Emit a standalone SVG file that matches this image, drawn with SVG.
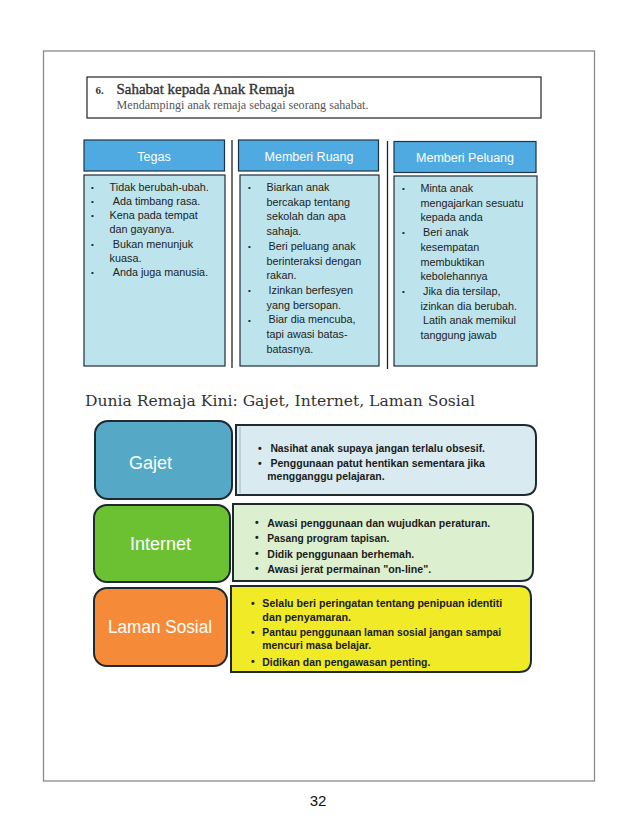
<svg xmlns="http://www.w3.org/2000/svg" width="638" height="837" viewBox="0 0 638 837">
<style>
.page{fill:#fff;stroke:#8a8a8a;stroke-width:1.3}
.hbox{fill:#fff;stroke:#222;stroke-width:1.2}
.ttl{font-family:"Liberation Serif",serif;font-size:15px;fill:#333;stroke:#333;stroke-width:0.35}
.sub{font-family:"Liberation Serif",serif;font-size:11.5px;fill:#555}
.colh{fill:#4faae2;stroke:#1d3447;stroke-width:1.2}
.colb{fill:#bde4ec;stroke:#1e2e38;stroke-width:1.2}
.colht{font-family:"Liberation Sans",Arial,sans-serif;font-size:12.5px;fill:#fff;text-anchor:middle}
.ct{font-family:"Liberation Sans",Arial,sans-serif;font-size:10.8px;fill:#222}
.bul{font-family:"Liberation Sans",Arial,sans-serif;font-size:8px;fill:#222}
.sep{stroke:#222;stroke-width:1.3}
.head{font-family:"DejaVu Serif",serif;font-size:15.5px;fill:#333}
.lbl{stroke:#1e2a30;stroke-width:2}
.lt{font-family:"Liberation Sans",Arial,sans-serif;font-size:18px;fill:#fff}
.cb{stroke:#1e2a30;stroke-width:2}
.bt{font-family:"Liberation Sans",Arial,sans-serif;font-size:10.5px;font-weight:bold;fill:#1b1b1b}
.pn{font-family:"Liberation Sans",Arial,sans-serif;font-size:15px;fill:#111;text-anchor:middle}
</style>
<rect x="0" y="0" width="638" height="837" fill="#fff"/>
<rect class="page" x="43.5" y="51" width="551" height="730"/>

<g id="section-title">
<rect class="hbox" x="87" y="77" width="454" height="41"/>
<text x="95.4" y="94" font-family="Liberation Serif,serif" font-weight="bold" font-size="11px" fill="#333">6.</text>
<text class="ttl" x="116.5" y="94" textLength="178" lengthAdjust="spacingAndGlyphs">Sahabat kepada Anak Remaja</text>
<text class="sub" x="116.5" y="108.5" textLength="252" lengthAdjust="spacingAndGlyphs">Mendampingi anak remaja sebagai seorang sahabat.</text>
</g>

<line class="sep" x1="232" y1="140" x2="232" y2="368"/>
<line class="sep" x1="387.5" y1="141" x2="387.5" y2="369"/>

<g id="tegas">
<rect class="colh" x="84" y="140" width="140.5" height="31"/>
<text class="colht" x="154" y="160.5">Tegas</text>
<rect class="colb" x="84" y="175" width="141" height="191"/>
<g class="bul"><text x="91" y="190">•</text><text x="91" y="204">•</text><text x="91" y="218">•</text><text x="91" y="246.5">•</text><text x="91" y="274.5">•</text></g>
<text class="ct" x="109.6" y="191">Tidak berubah-ubah.</text>
<text class="ct" x="112.7" y="205">Ada timbang rasa.</text>
<text class="ct" x="109.6" y="219">Kena pada tempat</text>
<text class="ct" x="109.6" y="233">dan gayanya.</text>
<text class="ct" x="112.7" y="247.5">Bukan menunjuk</text>
<text class="ct" x="109.6" y="261.5">kuasa.</text>
<text class="ct" x="112.7" y="275.5">Anda juga manusia.</text>
</g>

<g id="memberi-ruang">
<rect class="colh" x="238.5" y="140" width="140" height="31"/>
<text class="colht" x="309" y="160.5">Memberi Ruang</text>
<rect class="colb" x="240" y="175" width="139" height="191"/>
<g class="bul"><text x="248" y="190">•</text><text x="248" y="249">•</text><text x="248" y="293">•</text><text x="248" y="322.5">•</text></g>
<text class="ct" x="266.5" y="191">Biarkan anak</text>
<text class="ct" x="266.5" y="205.7">bercakap tentang</text>
<text class="ct" x="266.5" y="220.4">sekolah dan apa</text>
<text class="ct" x="266.5" y="235.1">sahaja.</text>
<text class="ct" x="268.5" y="249.8">Beri peluang anak</text>
<text class="ct" x="266.5" y="264.5">berinteraksi dengan</text>
<text class="ct" x="266.5" y="279.2">rakan.</text>
<text class="ct" x="268.5" y="293.9">Izinkan berfesyen</text>
<text class="ct" x="266.5" y="308.6">yang bersopan.</text>
<text class="ct" x="268.5" y="323.3">Biar dia mencuba,</text>
<text class="ct" x="266.5" y="338">tapi awasi batas-</text>
<text class="ct" x="266.5" y="352.7">batasnya.</text>
</g>

<g id="memberi-peluang">
<rect class="colh" x="394" y="141.5" width="142" height="31"/>
<text class="colht" x="465" y="161.5">Memberi Peluang</text>
<rect class="colb" x="394" y="176" width="143" height="190"/>
<g class="bul"><text x="402" y="191">•</text><text x="402" y="235">•</text><text x="402" y="294">•</text></g>
<text class="ct" x="420.4" y="192">Minta anak</text>
<text class="ct" x="420.4" y="206.7">mengajarkan sesuatu</text>
<text class="ct" x="420.4" y="221.4">kepada anda</text>
<text class="ct" x="423" y="236.1">Beri anak</text>
<text class="ct" x="420.4" y="250.8">kesempatan</text>
<text class="ct" x="420.4" y="265.5">membuktikan</text>
<text class="ct" x="420.4" y="280.2">kebolehannya</text>
<text class="ct" x="423" y="294.9">Jika dia tersilap,</text>
<text class="ct" x="420.4" y="309.6">izinkan dia berubah.</text>
<text class="ct" x="423" y="324.3">Latih anak memikul</text>
<text class="ct" x="420.4" y="339">tanggung jawab</text>
</g>

<text class="head" x="85" y="406" textLength="390" lengthAdjust="spacingAndGlyphs">Dunia Remaja Kini: Gajet, Internet, Laman Sosial</text>

<g id="gajet">
<rect class="lbl" x="95" y="421" width="137" height="78" rx="13" fill="#55a9c7"/>
<text class="lt" x="129" y="469">Gajet</text>
</g>
<g id="gajet-content">
<path class="cb" d="M236,425 H524 Q536,425 536,437 V483 Q536,495 524,495 H236 Z" fill="#d9eaf0"/>
<line x1="240" y1="427" x2="240" y2="493" stroke="#9fb4bb" stroke-width="1"/>
<text class="bt" x="258" y="451.5" font-size="9px">•</text>
<text class="bt" x="258" y="466.5" font-size="9px">•</text>
<text class="bt" x="270.4" y="451.8" textLength="214.6" lengthAdjust="spacingAndGlyphs">Nasihat anak supaya jangan terlalu obsesif.</text>
<text class="bt" x="270.4" y="467" textLength="214.6" lengthAdjust="spacingAndGlyphs">Penggunaan patut hentikan sementara jika</text>
<text class="bt" x="267.3" y="480.3" textLength="117.3" lengthAdjust="spacingAndGlyphs">mengganggu pelajaran.</text>
</g>

<g id="internet">
<rect class="lbl" x="94" y="505" width="136" height="77" rx="13" fill="#6cc133"/>
<text class="lt" x="130" y="550">Internet</text>
</g>
<g id="internet-content">
<path class="cb" d="M233,504 H521 Q533,504 533,516 V569 Q533,581 521,581 H233 Z" fill="#dcf0d0"/>
<g class="bt" font-size="9px"><text x="255" y="526">•</text><text x="255" y="541.3">•</text><text x="255" y="557">•</text><text x="255" y="572.3">•</text></g>
<text class="bt" x="267.3" y="526.5" textLength="223" lengthAdjust="spacingAndGlyphs">Awasi penggunaan dan wujudkan peraturan.</text>
<text class="bt" x="267.3" y="541.8" textLength="122" lengthAdjust="spacingAndGlyphs">Pasang program tapisan.</text>
<text class="bt" x="267.3" y="557.5" textLength="147" lengthAdjust="spacingAndGlyphs">Didik penggunaan berhemah.</text>
<text class="bt" x="267.3" y="572.8" textLength="164" lengthAdjust="spacingAndGlyphs">Awasi jerat permainan "on-line".</text>
</g>

<g id="laman-sosial">
<rect class="lbl" x="94" y="588" width="133" height="78" rx="13" fill="#f58b38"/>
<text class="lt" x="108" y="633" textLength="104" lengthAdjust="spacingAndGlyphs">Laman Sosial</text>
</g>
<g id="laman-sosial-content">
<path class="cb" d="M231,586 H519 Q531,586 531,598 V660 Q531,672 519,672 H231 Z" fill="#f0eb26"/>
<g class="bt" font-size="9px"><text x="251" y="606.5">•</text><text x="251" y="635.5">•</text><text x="251" y="665">•</text></g>
<text class="bt" x="262.3" y="607.2" textLength="240" lengthAdjust="spacingAndGlyphs">Selalu beri peringatan tentang penipuan identiti</text>
<text class="bt" x="262.3" y="620.8" textLength="88.8" lengthAdjust="spacingAndGlyphs">dan  penyamaran.</text>
<text class="bt" x="262.3" y="636.2" textLength="238.8" lengthAdjust="spacingAndGlyphs">Pantau penggunaan laman sosial jangan sampai</text>
<text class="bt" x="262.3" y="649.4" textLength="108.8" lengthAdjust="spacingAndGlyphs">mencuri masa belajar.</text>
<text class="bt" x="262.3" y="665.6" textLength="168" lengthAdjust="spacingAndGlyphs">Didikan dan pengawasan penting.</text>
</g>

<text class="pn" x="318" y="806">32</text>
</svg>
